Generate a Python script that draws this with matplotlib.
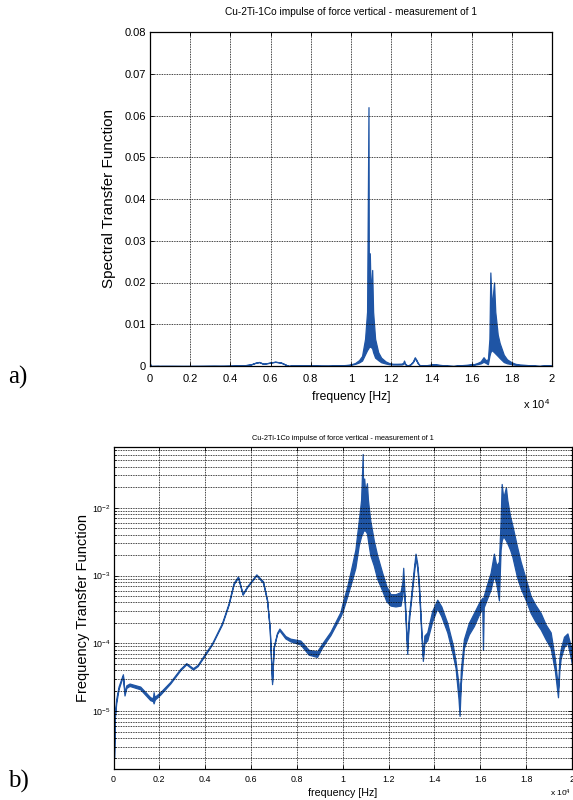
import numpy as np
import matplotlib
matplotlib.use("Agg")
import matplotlib.pyplot as plt
from matplotlib.ticker import FuncFormatter, LogLocator, NullFormatter

plt.rcParams['font.family'] = ['Liberation Sans', 'DejaVu Sans']
plt.rcParams['mathtext.fontset'] = 'custom'
plt.rcParams['mathtext.rm'] = 'Liberation Sans'
plt.rcParams['mathtext.it'] = 'Liberation Sans'
plt.rcParams['mathtext.bf'] = 'Liberation Sans'

TITLE = "Cu-2Ti-1Co impulse of force vertical - measurement of 1"

# frequency [Hz] and lower / upper envelope of the measured transfer function
freq = [0, 20, 60, 118, 220, 410, 480, 560, 700, 1166,
        1603, 1720, 1750, 1790, 1820, 2040, 2476, 2913, 3175, 3467,
        3668, 4078, 4297, 4734, 5022, 5240, 5432, 5633, 5825, 6231,
        6524, 6699, 6812, 6917, 6987, 7135, 7236, 7498, 7716, 8153,
        8515, 8880, 9100, 9463, 9900, 10000, 10200, 10400, 10550, 10700,
        10800, 10870, 10890, 10935, 10980, 11054, 11100, 11200, 11354, 11500,
        11720, 11900, 12083, 12300, 12520, 12600, 12638, 12700, 12812, 12880,
        12956, 13080, 13175, 13250, 13320, 13420, 13494, 13560, 13686, 13900,
        14123, 14300, 14559, 14800, 14921, 15050, 15096, 15150, 15284, 15500,
        15721, 15950, 16087, 16116, 16150, 16300, 16450, 16594, 16700, 16812,
        16886, 16933, 17003, 17117, 17178, 17300, 17397, 17600, 17760, 18000,
        18197, 18400, 18634, 18850, 19070, 19250, 19389, 19450, 19507, 19650,
        19800, 19950, 20000]

lo = [6e-4, 2e-6, 8e-6, 1.3e-5, 2.1e-5, 3.3e-5, 1.7e-5, 2.2e-5, 2.35e-5, 2.1e-5,
      1.45e-5, 1.4e-5, 1.3e-5, 1.45e-5, 1.5e-5, 1.75e-5, 2.55e-5, 4.0e-5, 4.9e-5, 4.1e-5,
      4.6e-5, 7.4e-5, 9.6e-5, 1.9e-4, 3.7e-4, 7.4e-4, 9.3e-4, 5.2e-4, 6.7e-4, 1.0e-3,
      7.8e-4, 4.2e-4, 1.65e-4, 2.5e-5, 8.5e-5, 1.37e-4, 1.55e-4, 1.18e-4, 1.07e-4, 9.6e-5,
      6.8e-5, 6.3e-5, 8.7e-5, 1.32e-4, 2.5e-4, 3.0e-4, 5.0e-4, 8.5e-4, 1.3e-3, 2.8e-3,
      3.8e-3, 4.3e-3, 4.6e-3, 4.6e-3, 4.6e-3, 4.2e-3, 3.3e-3, 2.0e-3, 1.4e-3, 9.0e-4,
      6.0e-4, 4.2e-4, 3.6e-4, 3.5e-4, 3.6e-4, 5.0e-4, 8.0e-4, 4.0e-4, 7.0e-5, 2.0e-4,
      3.6e-4, 9.0e-4, 1.8e-3, 1.3e-3, 6.5e-4, 1.5e-4, 5.5e-5, 1.0e-4, 1.1e-4, 2.1e-4,
      3.3e-4, 2.5e-4, 1.45e-4, 6.8e-5, 4.3e-5, 1.5e-5, 8.5e-6, 2.5e-5, 8.5e-5, 1.35e-4,
      1.8e-4, 2.7e-4, 3.3e-4, 8.0e-5, 3.4e-4, 4.6e-4, 6.2e-4, 1.0e-3, 7.5e-4, 4.3e-4,
      2.4e-3, 3.3e-3, 3.8e-3, 3.3e-3, 3.0e-3, 2.4e-3, 1.9e-3, 9.5e-4, 6.5e-4, 4.2e-4,
      2.8e-4, 2.1e-4, 1.6e-4, 1.15e-4, 8.5e-5, 4.0e-5, 1.6e-5, 4.0e-5, 6.0e-5, 8.8e-5,
      1.02e-4, 6.0e-5, 5.0e-5]

hi = [6e-4, 2e-6, 9e-6, 1.5e-5, 2.3e-5, 3.5e-5, 1.9e-5, 2.4e-5, 2.55e-5, 2.3e-5,
      1.6e-5, 1.55e-5, 1.9e-5, 1.6e-5, 1.65e-5, 1.9e-5, 2.7e-5, 4.2e-5, 5.1e-5, 4.3e-5,
      4.8e-5, 7.8e-5, 1.0e-4, 2.0e-4, 3.9e-4, 7.8e-4, 9.7e-4, 5.4e-4, 6.9e-4, 1.04e-3,
      8.2e-4, 4.4e-4, 1.75e-4, 2.7e-5, 8.9e-5, 1.43e-4, 1.65e-4, 1.28e-4, 1.17e-4, 1.1e-4,
      8.0e-5, 7.6e-5, 9.9e-5, 1.48e-4, 2.9e-4, 4.0e-4, 7.0e-4, 1.4e-3, 2.4e-3, 6.5e-3,
      1.3e-2, 6.2e-2, 1.5e-2, 2.7e-2, 1.7e-2, 2.3e-2, 1.3e-2, 6.5e-3, 3.3e-3, 2.0e-3,
      1.1e-3, 7.0e-4, 5.3e-4, 5.3e-4, 5.7e-4, 8.0e-4, 1.3e-3, 5.0e-4, 8.5e-5, 2.5e-4,
      4.2e-4, 1.1e-3, 2.1e-3, 1.5e-3, 8.0e-4, 1.8e-4, 6.5e-5, 1.3e-4, 1.45e-4, 3.0e-4,
      4.4e-4, 3.5e-4, 2.0e-4, 9.5e-5, 5.5e-5, 2.5e-5, 1.2e-5, 4.0e-5, 1.15e-4, 2.0e-4,
      2.8e-4, 4.0e-4, 4.7e-4, 3.6e-4, 5.0e-4, 7.5e-4, 1.1e-3, 2.1e-3, 1.4e-3, 1.6e-3,
      6.5e-3, 2.24e-2, 1.4e-2, 2.0e-2, 1.3e-2, 7.5e-3, 5.5e-3, 2.7e-3, 1.6e-3, 8.5e-4,
      5.0e-4, 3.7e-4, 2.8e-4, 1.9e-4, 1.45e-4, 6.0e-5, 2.2e-5, 6.0e-5, 8.2e-5, 1.25e-4,
      1.4e-4, 9.0e-5, 7.0e-5]

xticks = [0, 0.2, 0.4, 0.6, 0.8, 1.0, 1.2, 1.4, 1.6, 1.8, 2.0]
yticks_a = [0, 0.01, 0.02, 0.03, 0.04, 0.05, 0.06, 0.07, 0.08]

f4 = np.array(freq) / 1e4
lo = np.array(lo)
hi = np.array(hi)

BLUE = '#1f55a5'
W, H = 573, 800
fig = plt.figure(figsize=(W / 100, H / 100), dpi=100)

def style(ax, fs):
    for s in ax.spines.values():
        s.set_color('black')
        s.set_linewidth(0.9)
    ax.tick_params(which='both', direction='in', top=True, right=True,
                   labelsize=fs, colors='black', width=0.6)
    ax.tick_params(which='major', length=3)
    ax.tick_params(which='minor', length=1.5)

fmt = FuncFormatter(lambda v, p: '%g' % round(v, 4))

# ---------------- panel a ----------------
axa = fig.add_axes([150 / W, 1 - 366 / H, 402 / W, 334 / H])
axa.fill_between(f4, lo, hi, color=BLUE, edgecolor=BLUE, linewidth=0.9)
axa.set_xlim(0, 2)
axa.set_ylim(0, 0.08)
axa.set_xticks(xticks)
axa.set_yticks(yticks_a)
axa.xaxis.set_major_formatter(fmt)
axa.yaxis.set_major_formatter(fmt)
axa.grid(True, which='major', linestyle=(0, (1, 1)), color='black', linewidth=0.6)
style(axa, 8)
axa.tick_params(axis='x', pad=6)
axa.tick_params(axis='y', pad=3)
axa.set_title(TITLE, fontsize=7.3, pad=12)
axa.set_xlabel('frequency [Hz]', fontsize=8.7, labelpad=5)
axa.set_ylabel('Spectral Transfer Function', fontsize=11)
axa.yaxis.set_label_coords((116 - 150) / 402, 0.5)
fig.text(523 / W, 1 - 404 / H, r'x 10$^{4}$', fontsize=8, ha='left', va='center')
fig.text(8 / W, 1 - 377 / H, 'a)', fontsize=18, family=['Liberation Serif'],
         ha='left', va='center')

# ---------------- panel b ----------------
axb = fig.add_axes([113.5 / W, 1 - 769 / H, 458.5 / W, 322.5 / H])
axb.fill_between(f4, lo, hi, color=BLUE, edgecolor=BLUE, linewidth=0.9)
axb.set_yscale('log')
axb.set_xlim(0, 2)
axb.set_ylim(1.4e-6, 0.08)
axb.set_xticks(xticks)
axb.xaxis.set_major_formatter(fmt)
axb.yaxis.set_major_locator(LogLocator(base=10, numticks=10))
axb.yaxis.set_minor_locator(LogLocator(base=10, subs=np.arange(2, 10), numticks=20))
axb.yaxis.set_minor_formatter(NullFormatter())
axb.grid(True, which='major', linestyle=(0, (1, 1)), color='black', linewidth=0.6)
axb.grid(True, which='minor', axis='y', linestyle=(0, (1, 1)), color='black', linewidth=0.6)
style(axb, 6.4)
axb.tick_params(axis='x', pad=4)
axb.tick_params(axis='y', pad=2)
axb.set_title(TITLE, fontsize=5.3, pad=5)
axb.set_xlabel('frequency [Hz]', fontsize=7.7, labelpad=3)
axb.set_ylabel('Frequency Transfer Function', fontsize=10.5)
axb.yaxis.set_label_coords((90 - 113.5) / 458.5, 0.5)
fig.text(550 / W, 1 - 793 / H, r'x 10$^{4}$', fontsize=6, ha='left', va='center')
fig.text(8 / W, 1 - 781 / H, 'b)', fontsize=18, family=['Liberation Serif'],
         ha='left', va='center')

fig.savefig('out.png', dpi=100)
